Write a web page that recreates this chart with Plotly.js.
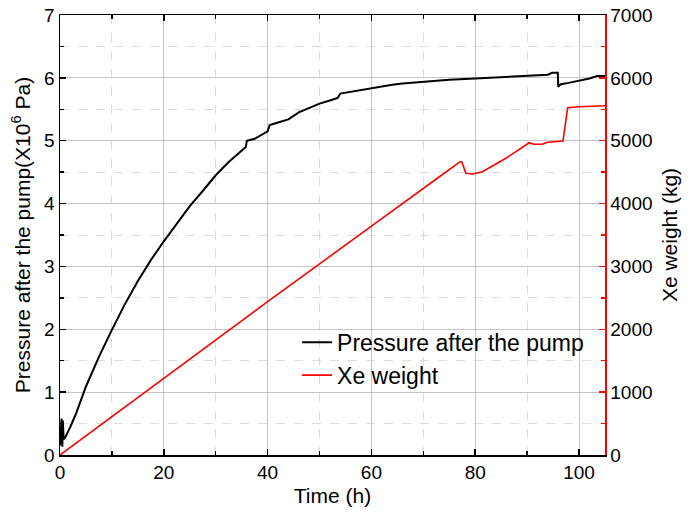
<!DOCTYPE html>
<html>
<head>
<meta charset="utf-8">
<script src="https://cdn.plot.ly/plotly-3.0.1.min.js"></script>
<style>html,body{margin:0;padding:0;background:#fff}#chart{width:691px;height:517px}</style>
</head>
<body>
<div id="chart"></div>
<script>
// Pressure after the pump (x10^6 Pa) vs time (h)
const pressureTime = [0, 0.3, 0.45, 0.55, 0.7, 1.0, 2, 3, 5, 7.5, 10, 12.5, 15, 17.5, 20, 22.5, 25, 27.5, 30, 32.5, 35, 35.8, 36.0, 37.5, 40, 40.4, 42, 44, 46, 48, 50, 52, 53.5, 54, 56, 58, 60, 62, 64, 66, 70, 75, 80, 85, 90, 94, 94.8, 95.9, 96.0, 96.5, 98, 100, 102, 103.5, 105];
const pressureValue = [0.15, 0.58, 0.13, 0.55, 0.25, 0.28, 0.45, 0.64, 1.09, 1.56, 1.99, 2.40, 2.77, 3.10, 3.40, 3.69, 3.96, 4.20, 4.45, 4.66, 4.85, 4.90, 5.00, 5.03, 5.15, 5.25, 5.29, 5.34, 5.45, 5.52, 5.59, 5.64, 5.68, 5.75, 5.78, 5.80, 5.83, 5.86, 5.89, 5.91, 5.94, 5.97, 5.99, 6.01, 6.03, 6.05, 6.08, 6.08, 5.86, 5.90, 5.92, 5.95, 5.99, 6.03, 6.03];

// Xe weight (kg) vs time (h)
const xeTime = [0, 20, 40, 60, 70, 73.1, 77.1, 77.4, 78.2, 79.5, 81.4, 85.9, 90.4, 91.3, 92.9, 93.9, 96.9, 97.8, 100, 105];
const xeValue = [0, 1220, 2440, 3640, 4250, 4427, 4666, 4666, 4481, 4470, 4507, 4720, 4968, 4943, 4943, 4975, 4995, 5525, 5541, 5557];

const seriesNames = ["Pressure after the pump", "Xe weight"];
const xTitle = "Time (h)";
const yTitle = "Pressure after the pump(X10<sup>6</sup> Pa)";
const y2Title = "Xe weight (kg)";

const FONT = "Liberation Sans, Arial, sans-serif";

const traces = [
  {x: pressureTime, y: pressureValue, name: seriesNames[0], type: "scatter", mode: "lines",
   line: {color: "#000000", width: 2}, yaxis: "y"},
  {x: xeTime, y: xeValue, name: seriesNames[1], type: "scatter", mode: "lines",
   line: {color: "#ff0000", width: 1.6}, yaxis: "y2"}
];

const layout = {
  width: 691, height: 517,
  margin: {l: 60, r: 86, t: 15, b: 62},
  paper_bgcolor: "#ffffff", plot_bgcolor: "#ffffff",
  font: {family: FONT, size: 19, color: "#000"},
  showlegend: true,
  legend: {x: 0.435, y: 0.305, xanchor: "left", yanchor: "top", bgcolor: "rgba(0,0,0,0)",
           font: {family: FONT, size: 23, color: "#000"}, borderwidth: 0},
  xaxis: {
    range: [0, 105], dtick: 20, tick0: 0,
    showline: true, linecolor: "#000", linewidth: 1.5, mirror: "ticks",
    ticks: "inside", ticklen: 6, tickcolor: "#000", tickwidth: 1.5,
    showgrid: true, gridcolor: "#c4c4c4", gridwidth: 1,
    zeroline: false,
    minor: {dtick: 10, ticks: "inside", ticklen: 4, tickcolor: "#000", showgrid: true, gridcolor: "#dcdcdc", griddash: "dash"},
    tickfont: {size: 19},
    title: {text: xTitle, font: {size: 21}, standoff: 6}
  },
  yaxis: {
    range: [0, 7], dtick: 1, tick0: 0,
    showline: true, linecolor: "#000", linewidth: 1.5,
    ticks: "inside", ticklen: 6, tickcolor: "#000", tickwidth: 1.5,
    showgrid: true, gridcolor: "#c4c4c4", gridwidth: 1,
    zeroline: false,
    minor: {dtick: 0.5, ticks: "inside", ticklen: 4, tickcolor: "#000", showgrid: true, gridcolor: "#dcdcdc", griddash: "dash"},
    tickfont: {size: 19},
    title: {text: yTitle, font: {size: 21}, standoff: 8}
  },
  yaxis2: {
    overlaying: "y", side: "right",
    range: [0, 7000], dtick: 1000, tick0: 0,
    showline: true, linecolor: "#ff0000", linewidth: 1.5,
    ticks: "inside", ticklen: 6, tickcolor: "#ff0000", tickwidth: 1.5,
    showgrid: false, zeroline: false,
    minor: {dtick: 500, ticks: "inside", ticklen: 4, tickcolor: "#ff0000", showgrid: false},
    tickfont: {size: 19, color: "#000"},
    title: {text: y2Title, font: {size: 21}, standoff: 10}
  }
};

Plotly.newPlot("chart", traces, layout, {displayModeBar: false, staticPlot: true});
</script>
</body>
</html>
